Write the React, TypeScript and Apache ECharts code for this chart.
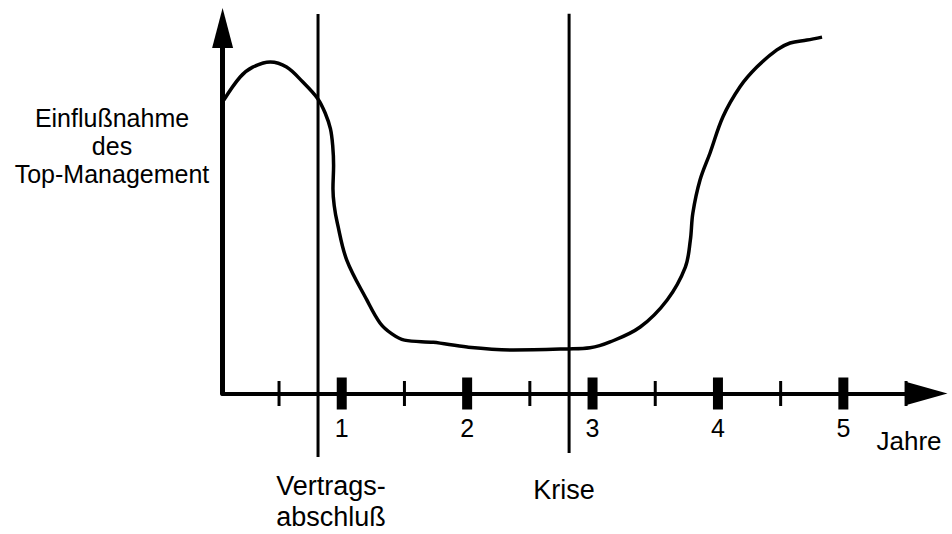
import React, { useEffect, useRef } from "react";
import * as echarts from "echarts";

// Years (x) and influence of top management (y, 0–100)
const curveYears = [
  0.06, 0.19, 0.29, 0.43, 0.56, 0.69, 0.81, 0.867, 0.91, 0.928, 0.935, 0.93,
  0.94, 0.965, 1.04, 1.2, 1.305, 1.4, 1.5, 1.73, 2.0, 2.37, 2.8, 2.98, 3.14,
  3.38, 3.595, 3.74, 3.78, 3.8, 3.857, 3.937, 4.04, 4.176, 4.31, 4.47, 4.575,
  4.71, 4.83,
];
const curveInfluence = [
  80.3, 86.6, 89.3, 90.7, 89.3, 85.2, 80.6, 76.8, 72.4, 67.8, 62.4, 56.0,
  51.4, 46.6, 36.5, 25.6, 19.3, 16.3, 14.6, 14.0, 12.7, 11.9, 12.2, 12.5,
  14.1, 18.2, 25.6, 34.6, 42.0, 49.4, 58.4, 65.8, 75.7, 83.9, 89.3, 94.0,
  95.9, 96.7, 97.5,
];

const majorTicks = [1, 2, 3, 4, 5];
const majorTickLabels = ["1", "2", "3", "4", "5"];
const minorTicks = [0.5, 1.5, 2.5, 3.5, 4.5, 5.5];

const eventYears = [0.811, 2.813];
const eventNames = ["Vertrags-\nabschluß", "Krise"];
const eventLineTop = [103.8, 103.9];
const eventLineBottom = [-17.4, -16.3];

const yTitle = "Einflußnahme\ndes\nTop-Management";
const xTitle = "Jahre";

const FONT = "'Liberation Sans', Arial, Helvetica, sans-serif";

export default function App() {
  const ref = useRef<HTMLDivElement>(null);
  useEffect(() => {
    if (!ref.current) return;
    const chart = echarts.init(ref.current, null, { renderer: "svg" });
    const curveData = curveYears.map((x, i) => [x, curveInfluence[i]]);
    const eventSeries = eventYears.map((x, i) => ({
      type: "line",
      name: eventNames[i],
      data: [
        [x, eventLineTop[i]],
        [x, eventLineBottom[i]],
      ],
      showSymbol: false,
      symbol: "none",
      clip: false,
      silent: true,
      lineStyle: { color: "#000", width: 3 },
      z: 3,
    }));
    chart.setOption({
      animation: false,
      backgroundColor: "#fff",
      grid: { left: 222.6, right: 25, top: 28, bottom: 140.5, containLabel: false },
      xAxis: {
        type: "value",
        min: 0.05,
        max: 5.667,
        axisLine: {
          show: true,
          symbol: ["none", "triangle"],
          symbolSize: [23, 41],
          lineStyle: { color: "#000", width: 4 },
        },
        axisTick: { show: false },
        axisLabel: { show: false },
        splitLine: { show: false },
      },
      yAxis: {
        type: "value",
        min: 0,
        max: 100,
        axisLine: {
          show: true,
          symbol: ["none", "triangle"],
          symbolSize: [21, 40],
          lineStyle: { color: "#000", width: 5 },
        },
        axisTick: { show: false },
        axisLabel: { show: false },
        splitLine: { show: false },
      },
      series: [
        {
          type: "line",
          name: "Einflußnahme",
          data: curveData,
          smooth: 0.35,
          showSymbol: false,
          symbol: "none",
          clip: false,
          lineStyle: { color: "#000", width: 3.5 },
          z: 4,
        },
        ...eventSeries,
        {
          type: "scatter",
          name: "major",
          data: majorTicks.map((x) => [x, 0]),
          symbol: "rect",
          symbolSize: [10, 32],
          itemStyle: { color: "#000", opacity: 1 },
          clip: false,
          silent: true,
          label: {
            show: true,
            position: "bottom",
            distance: 6,
            color: "#000",
            fontFamily: FONT,
            fontSize: 25,
            formatter: (p: any) => majorTickLabels[p.dataIndex],
          },
          z: 5,
        },
        {
          type: "scatter",
          name: "minor",
          data: minorTicks.map((x) => [x, 0]),
          symbol: "rect",
          symbolSize: [3, 25],
          itemStyle: { color: "#000", opacity: 1 },
          clip: false,
          silent: true,
          z: 5,
        },
      ],
      graphic: [
        {
          type: "text",
          x: 112,
          y: 146,
          style: {
            text: yTitle,
            fill: "#000",
            font: `25px ${FONT}`,
            align: "center",
            verticalAlign: "middle",
            lineHeight: 28,
          },
        },
        {
          type: "text",
          x: 909,
          y: 441,
          style: {
            text: xTitle,
            fill: "#000",
            font: `26px ${FONT}`,
            align: "center",
            verticalAlign: "middle",
          },
        },
        {
          type: "text",
          x: 331,
          y: 501,
          style: {
            text: eventNames[0],
            fill: "#000",
            font: `27px ${FONT}`,
            align: "center",
            verticalAlign: "middle",
            lineHeight: 31,
          },
        },
        {
          type: "text",
          x: 564,
          y: 490,
          style: {
            text: eventNames[1],
            fill: "#000",
            font: `27px ${FONT}`,
            align: "center",
            verticalAlign: "middle",
          },
        },
      ],
    });
    return () => chart.dispose();
  }, []);
  return (
    <div
      ref={ref}
      style={{ position: "absolute", left: 0, top: 0, width: 952, height: 534 }}
    />
  );
}
